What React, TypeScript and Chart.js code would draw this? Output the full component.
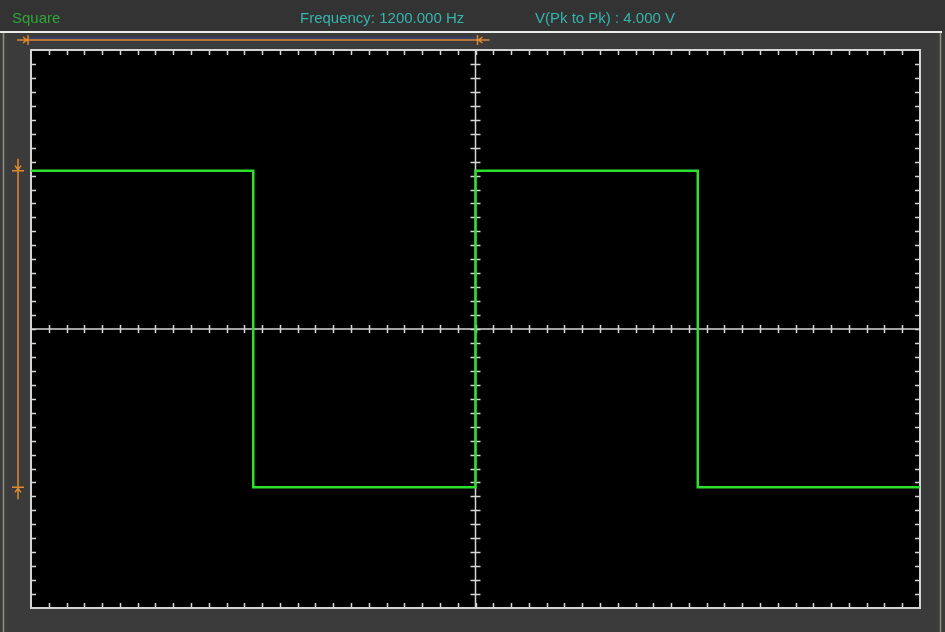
import { useEffect, useRef } from "react";
import { Chart, registerables } from "chart.js";

Chart.register(...registerables);

// Time axis in divisions (10 divisions), voltage axis in divisions (8 divisions)
const timeDivs = [0, 2.5, 2.5, 5, 5, 7.5, 7.5, 10];
const voltDivs = [2.27, 2.27, -2.27, -2.27, 2.27, 2.27, -2.27, -2.27];
const xRange = [0, 10];
const yRange = [-4, 4];
const minorStep = 0.2;
const waveName = "Square";
const frequencyLabel = "Frequency: 1200.000 Hz";
const vppLabel = "V(Pk to Pk) : 4.000 V";
const periodMarker = [0, 5];
const amplitudeMarker = [2.27, -2.27];

const scopePlugin = {
  id: "scopeFrame",
  beforeDraw(chart: any) {
    const { ctx, width, height, chartArea } = chart;
    ctx.save();
    ctx.fillStyle = "#3b3b3b";
    ctx.fillRect(0, 0, width, height);
    ctx.fillStyle = "#333333";
    ctx.fillRect(0, 0, width, 31);
    // white separator
    ctx.strokeStyle = "#ececec";
    ctx.lineWidth = 2;
    ctx.beginPath();
    ctx.moveTo(0, 32);
    ctx.lineTo(942, 32);
    ctx.stroke();
    // side light edges
    ctx.strokeStyle = "#8e8e84";
    ctx.lineWidth = 1.5;
    ctx.beginPath();
    ctx.moveTo(3.5, 33);
    ctx.lineTo(3.5, height);
    ctx.moveTo(940.5, 33);
    ctx.lineTo(940.5, height);
    ctx.stroke();
    // header texts
    ctx.font = "15px 'Liberation Sans', Arial, sans-serif";
    ctx.textBaseline = "alphabetic";
    ctx.fillStyle = "#30a43a";
    ctx.fillText(waveName, 12, 23);
    ctx.fillStyle = "#36b4ae";
    ctx.fillText(frequencyLabel, 300, 23);
    ctx.fillText(vppLabel, 535, 23);
    // chart area
    ctx.fillStyle = "#000000";
    ctx.fillRect(chartArea.left, chartArea.top, chartArea.right - chartArea.left, chartArea.bottom - chartArea.top);

    const xs = chart.scales.x;
    const ys = chart.scales.y;
    // orange period marker
    const mx0 = xs.getPixelForValue(periodMarker[0]);
    const mx1 = xs.getPixelForValue(periodMarker[1]);
    const my = 40;
    ctx.strokeStyle = "#3048a0";
    ctx.lineWidth = 1;
    ctx.beginPath();
    ctx.moveTo(mx0 - 3, my - 2);
    ctx.lineTo(mx1 + 2, my - 2);
    ctx.stroke();
    ctx.strokeStyle = "#e08a30";
    ctx.lineWidth = 1.5;
    ctx.beginPath();
    ctx.moveTo(mx0 - 3, my);
    ctx.lineTo(mx1 + 2, my);
    ctx.moveTo(mx0 - 3, my - 5);
    ctx.lineTo(mx0 - 3, my + 5);
    ctx.moveTo(mx1 + 2, my - 5);
    ctx.lineTo(mx1 + 2, my + 5);
    // arrows
    ctx.moveTo(mx0 - 14, my);
    ctx.lineTo(mx0 - 4, my);
    ctx.moveTo(mx0 - 8, my - 3);
    ctx.lineTo(mx0 - 4, my);
    ctx.lineTo(mx0 - 8, my + 3);
    ctx.moveTo(mx1 + 14, my);
    ctx.lineTo(mx1 + 3, my);
    ctx.moveTo(mx1 + 7, my - 3);
    ctx.lineTo(mx1 + 3, my);
    ctx.lineTo(mx1 + 7, my + 3);
    ctx.stroke();
    // vertical amplitude marker
    const vx = 18;
    const vy0 = ys.getPixelForValue(amplitudeMarker[0]);
    const vy1 = ys.getPixelForValue(amplitudeMarker[1]);
    ctx.beginPath();
    ctx.moveTo(vx, vy0);
    ctx.lineTo(vx, vy1);
    ctx.moveTo(vx - 6, vy0);
    ctx.lineTo(vx + 6, vy0);
    ctx.moveTo(vx - 6, vy1);
    ctx.lineTo(vx + 6, vy1);
    ctx.moveTo(vx, vy0 - 12);
    ctx.lineTo(vx, vy0 - 1);
    ctx.moveTo(vx - 3, vy0 - 5);
    ctx.lineTo(vx, vy0 - 1);
    ctx.lineTo(vx + 3, vy0 - 5);
    ctx.moveTo(vx, vy1 + 12);
    ctx.lineTo(vx, vy1 + 1);
    ctx.moveTo(vx - 3, vy1 + 5);
    ctx.lineTo(vx, vy1 + 1);
    ctx.lineTo(vx + 3, vy1 + 5);
    ctx.stroke();
    ctx.restore();
  },
  beforeDatasetsDraw(chart: any) {
    const { ctx, chartArea } = chart;
    const xs = chart.scales.x;
    const ys = chart.scales.y;
    const { left, right, top, bottom } = chartArea;
    ctx.save();
    ctx.strokeStyle = "#d6d6d6";
    ctx.lineWidth = 1.5;
    const cx = xs.getPixelForValue((xRange[0] + xRange[1]) / 2);
    const cy = ys.getPixelForValue(0);
    ctx.beginPath();
    ctx.moveTo(left, cy);
    ctx.lineTo(right, cy);
    ctx.moveTo(cx, top);
    ctx.lineTo(cx, bottom);
    const nx = Math.round((xRange[1] - xRange[0]) / minorStep);
    for (let i = 1; i < nx; i++) {
      const px = Math.round(xs.getPixelForValue(xRange[0] + i * minorStep)) + 0.5;
      ctx.moveTo(px, top);
      ctx.lineTo(px, top + 5);
      ctx.moveTo(px, bottom);
      ctx.lineTo(px, bottom - 5);
      ctx.moveTo(px, cy - 4);
      ctx.lineTo(px, cy + 4);
    }
    const ny = Math.round((yRange[1] - yRange[0]) / minorStep);
    for (let i = 1; i < ny; i++) {
      const py = Math.round(ys.getPixelForValue(yRange[0] + i * minorStep)) + 0.5;
      ctx.moveTo(left, py);
      ctx.lineTo(left + 5, py);
      ctx.moveTo(right, py);
      ctx.lineTo(right - 5, py);
      ctx.moveTo(cx - 5, py);
      ctx.lineTo(cx + 5, py);
    }
    ctx.stroke();
    ctx.lineWidth = 2;
    ctx.strokeStyle = "#d4d4d4";
    ctx.strokeRect(left, top, right - left, bottom - top);
    ctx.restore();
  },
};

export default function App() {
  const canvasRef = useRef<HTMLCanvasElement | null>(null);
  useEffect(() => {
    document.body.style.margin = "0";
    document.body.style.background = "#3b3b3b";
    const canvas = canvasRef.current;
    if (!canvas) return;
    const chart = new Chart(canvas, {
      type: "line",
      data: {
        datasets: [
          {
            label: waveName,
            data: timeDivs.map((t, i) => ({ x: t, y: voltDivs[i] })),
            borderColor: "#2ee02e",
            borderWidth: 2.5,
            pointRadius: 0,
            tension: 0,
            fill: false,
          },
        ],
      },
      options: {
        responsive: false,
        animation: false,
        devicePixelRatio: 1,
        layout: { padding: { left: 31, top: 50, right: 25, bottom: 24 } },
        plugins: { legend: { display: false }, tooltip: { enabled: false }, title: { display: false } },
        scales: {
          x: { type: "linear", min: xRange[0], max: xRange[1], display: false },
          y: { type: "linear", min: yRange[0], max: yRange[1], display: false },
        },
      },
      plugins: [scopePlugin],
    });
    return () => chart.destroy();
  }, []);
  return (
    <div style={{ width: 945, height: 632 }}>
      <canvas ref={canvasRef} width={945} height={632} style={{ display: "block" }} />
    </div>
  );
}
